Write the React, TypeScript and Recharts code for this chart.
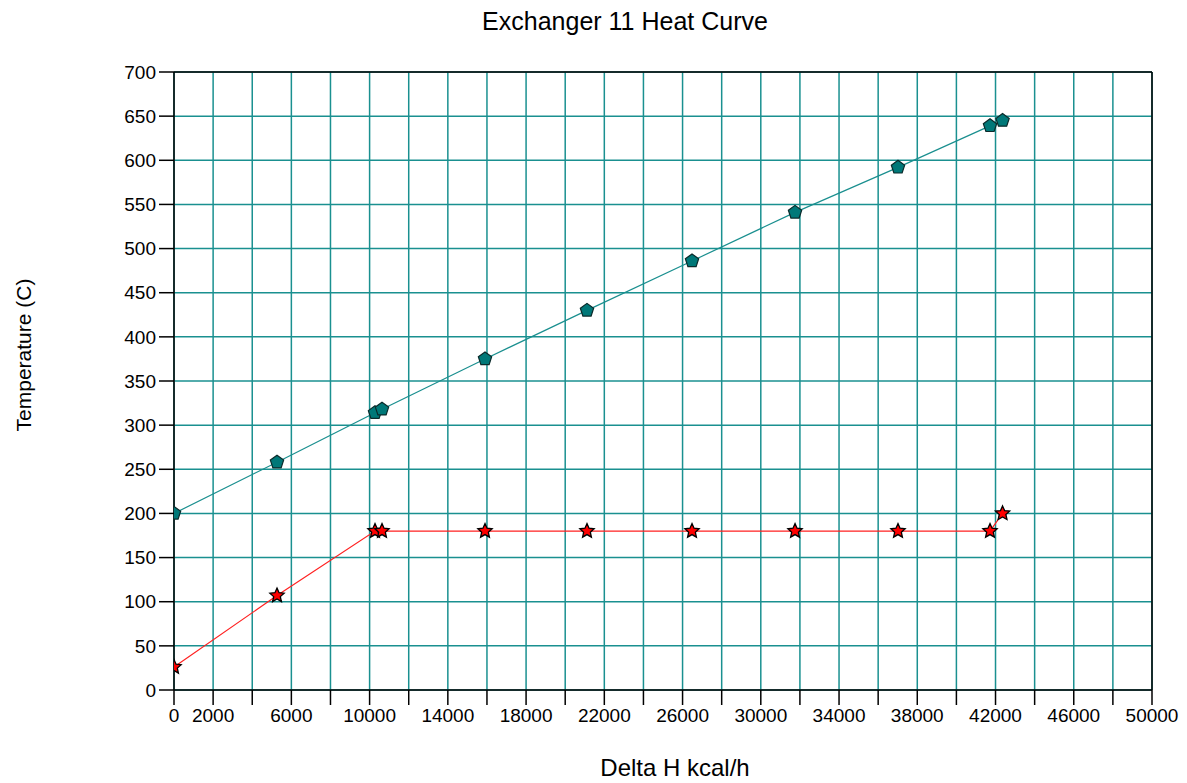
import { LineChart, Line, XAxis, YAxis, CartesianGrid, ReferenceLine } from 'recharts'

// Delta H (kcal/h) at each calculation point
const deltaH = [0, 5266, 10276, 10634, 15900, 21114, 26483, 31750, 37014, 41718, 42360]
// hot side temperature (C)
const hotTemp = [200, 258, 314, 318, 375, 430, 486, 541, 592, 639, 645]
// cold side temperature (C)
const coldTemp = [26, 107, 180, 180, 180, 180, 180, 180, 180, 180, 200]

const xTicks = Array.from({ length: 26 }, (_, i) => i * 2000)
const xLabels = [0, 2000, 6000, 10000, 14000, 18000, 22000, 26000, 30000, 34000, 38000, 42000, 46000, 50000]
const yTicks = Array.from({ length: 15 }, (_, i) => i * 50)

const hotData = deltaH.map((x, i) => ({ x, t: hotTemp[i] }))
const coldData = deltaH.map((x, i) => ({ x, t: coldTemp[i] }))

const FONT = '"Liberation Sans", Arial, sans-serif'
const GRID = '#1a9090'

function Pentagon(props: any) {
  const { cx, cy, index } = props
  if (cx == null || cy == null) return null
  const r = 7
  const pts = Array.from({ length: 5 }, (_, k) => {
    const a = -Math.PI / 2 + (k * 2 * Math.PI) / 5
    return `${cx + r * Math.cos(a)},${cy + r * Math.sin(a)}`
  }).join(' ')
  return <polygon key={`p${index}`} points={pts} fill="#007878" stroke="#0b2b2b" strokeWidth={1.2} />
}

function Star(props: any) {
  const { cx, cy, index } = props
  if (cx == null || cy == null) return null
  const pts = Array.from({ length: 10 }, (_, k) => {
    const r = k % 2 === 0 ? 7.5 : 3.5
    const a = -Math.PI / 2 + (k * Math.PI) / 5
    return `${cx + r * Math.cos(a)},${cy + r * Math.sin(a)}`
  }).join(' ')
  return <polygon key={`s${index}`} points={pts} fill="#ff0000" stroke="#000000" strokeWidth={1.3} />
}

export default function App() {
  return (
    <div
      style={{
        position: 'absolute',
        left: 0,
        top: 0,
        width: 1187,
        height: 783,
        background: '#ffffff',
        fontFamily: FONT,
      }}
    >
      <div
        style={{
          position: 'absolute',
          left: 625,
          top: 21,
          transform: 'translate(-50%, -50%)',
          fontSize: 25,
          whiteSpace: 'nowrap',
          color: '#000',
        }}
      >
        Exchanger 11 Heat Curve
      </div>

      <div
        style={{
          position: 'absolute',
          left: 24,
          top: 355,
          transform: 'translate(-50%, -50%) rotate(-90deg)',
          fontSize: 21,
          whiteSpace: 'nowrap',
          color: '#000',
        }}
      >
        Temperature (C)
      </div>

      <div
        style={{
          position: 'absolute',
          left: 675,
          top: 768,
          transform: 'translate(-50%, -50%)',
          fontSize: 24,
          whiteSpace: 'nowrap',
          color: '#000',
        }}
      >
        Delta H kcal/h
      </div>

      <LineChart
        width={1187}
        height={783}
        margin={{ top: 72, right: 35, bottom: 53, left: 104 }}
        style={{ position: 'absolute', left: 0, top: 0 }}
      >
        <CartesianGrid stroke={GRID} strokeWidth={1.5} horizontal vertical />
        <XAxis
          type="number"
          dataKey="x"
          domain={[0, 50000]}
          ticks={xTicks}
          interval={0}
          allowDataOverflow
          height={40}
          tickSize={15}
          tickMargin={4}
          axisLine={{ stroke: '#000', strokeWidth: 1.5 }}
          tickLine={{ stroke: '#000', strokeWidth: 1.5 }}
          tick={{ fill: '#000', fontSize: 19, fontFamily: FONT }}
          tickFormatter={(v: number) => (xLabels.includes(v) ? String(v) : '')}
        />
        <YAxis
          type="number"
          dataKey="t"
          domain={[0, 700]}
          ticks={yTicks}
          interval={0}
          width={70}
          tickSize={15}
          tickMargin={3}
          axisLine={{ stroke: '#000', strokeWidth: 1.5 }}
          tickLine={{ stroke: '#000', strokeWidth: 1.5 }}
          tick={{ fill: '#000', fontSize: 19, fontFamily: FONT }}
        />
        <ReferenceLine y={700} stroke="#000" strokeWidth={1.5} />
        <ReferenceLine x={50000} stroke="#000" strokeWidth={1.5} />

        <Line
          data={hotData}
          dataKey="t"
          stroke="#1a8f8f"
          strokeWidth={1.2}
          dot={Pentagon}
          activeDot={false}
          isAnimationActive={false}
        />
        <Line
          data={coldData}
          dataKey="t"
          stroke="#ff2020"
          strokeWidth={1.2}
          dot={Star}
          activeDot={false}
          isAnimationActive={false}
        />
      </LineChart>
    </div>
  )
}
